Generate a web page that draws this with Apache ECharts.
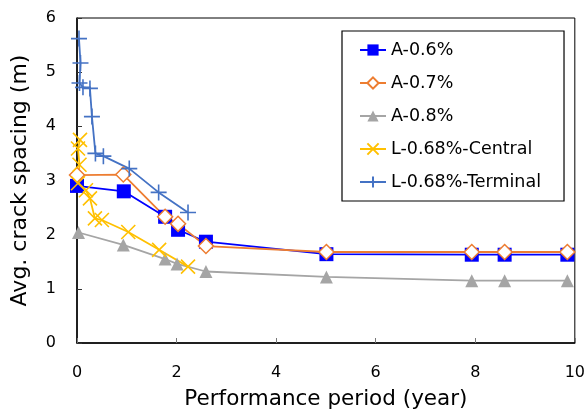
<!DOCTYPE html>
<html><head><meta charset="utf-8">
<script src="https://cdn.jsdelivr.net/npm/echarts@6/dist/echarts.min.js"></script>
<style>html,body{margin:0;padding:0;background:#fff}#c{width:588px;height:415px}</style>
</head><body><div id="c"></div>
<script>
const seriesNames = ['A-0.6%', 'A-0.7%', 'A-0.8%', 'L-0.68%-Central', 'L-0.68%-Terminal'];
const a06 = [[0, 2.90], [0.94, 2.80], [1.77, 2.33], [2.03, 2.09], [2.59, 1.87], [5.01, 1.64], [7.93, 1.63], [8.59, 1.63], [9.85, 1.63]];
const a07 = [[0, 3.10], [0.93, 3.11], [1.77, 2.33], [2.03, 2.20], [2.59, 1.79], [5.01, 1.68], [7.93, 1.68], [8.59, 1.68], [9.85, 1.68]];
const a08 = [[0.03, 2.04], [0.93, 1.81], [1.77, 1.55], [2.01, 1.46], [2.59, 1.32], [5.01, 1.22], [7.93, 1.15], [8.59, 1.15], [9.85, 1.15]];
const central = [[0.06, 3.75], [0.02, 3.59], [0.05, 3.29], [0.02, 2.95], [0.18, 2.82], [0.26, 2.67], [0.36, 2.30], [0.50, 2.27], [1.03, 2.05], [1.65, 1.72], [2.23, 1.41]];
const terminal = [[0.04, 5.62], [0.07, 5.17], [0.05, 4.80], [0.12, 4.72], [0.26, 4.70], [0.30, 4.18], [0.37, 3.50], [0.53, 3.45], [1.05, 3.22], [1.64, 2.78], [2.23, 2.41]];
const xTicks = [0, 2, 4, 6, 8, 10];
const yTicks = [0, 1, 2, 3, 4, 5, 6];

const FONT = '"DejaVu Sans", sans-serif';
const X_PATH = 'path://M0,0 L10,10 M10,0 L0,10';
const PLUS_PATH = 'path://M0,5 L10,5 M5,0 L5,10';

function mk(name, data, color, symbol, size, hollow, strokeOnly) {
  let itemStyle;
  if (strokeOnly) itemStyle = { color: 'rgba(0,0,0,0)', borderColor: color, borderWidth: 1.6 };
  else if (hollow) itemStyle = { color: '#fff', borderColor: color, borderWidth: 1.5 };
  else itemStyle = { color: color, borderWidth: 0 };
  return {
    name, type: 'line', data, symbol, symbolSize: size,
    showAllSymbol: true, animation: false,
    lineStyle: { color: color, width: 1.8 },
    itemStyle
  };
}

const chart = echarts.init(document.getElementById('c'));
chart.setOption({
  animation: false,
  grid: { left: 77, right: 11, top: 18, bottom: 72, show: true, borderColor: '#000', borderWidth: 1 },
  legend: {
    orient: 'vertical', left: 342, top: 31,
    data: seriesNames,
    borderColor: '#000', borderWidth: 1.2,
    padding: [9, 23, 9, 17],
    itemGap: 13, itemWidth: 26, itemHeight: 14,
    textStyle: { fontFamily: FONT, fontSize: 17.5, color: '#000', lineHeight: 20 }
  },
  xAxis: {
    type: 'value', min: 0, max: 10, interval: 2,
    name: 'Performance period (year)', nameLocation: 'middle', nameGap: 45,
    nameTextStyle: { fontFamily: FONT, fontSize: 21.5, color: '#000' },
    axisLine: { lineStyle: { color: '#000', width: 1.5 } },
    axisTick: { inside: true, length: 5, lineStyle: { color: '#777' } },
    axisLabel: { fontFamily: FONT, fontSize: 16, color: '#000', margin: 22 },
    splitLine: { show: false }
  },
  yAxis: {
    type: 'value', min: 0, max: 6, interval: 1,
    name: 'Avg. crack spacing (m)', nameLocation: 'middle', nameGap: 46,
    nameTextStyle: { fontFamily: FONT, fontSize: 22, color: '#000' },
    axisLine: { show: true, lineStyle: { color: '#000', width: 1.5 } },
    axisTick: { show: true, inside: true, length: 5, lineStyle: { color: '#333' } },
    axisLabel: { fontFamily: FONT, fontSize: 16, color: '#000', margin: 21 },
    splitLine: { show: false }
  },
  series: [
    mk(seriesNames[0], a06, '#0000FF', 'rect', 14, false, false),
    mk(seriesNames[1], a07, '#ED7D31', 'diamond', 15, true, false),
    mk(seriesNames[2], a08, '#A5A5A5', 'triangle', 13, false, false),
    mk(seriesNames[3], central, '#FFC000', X_PATH, 14, false, true),
    mk(seriesNames[4], terminal, '#4472C4', PLUS_PATH, 16, false, true)
  ]
});
</script></body></html>
